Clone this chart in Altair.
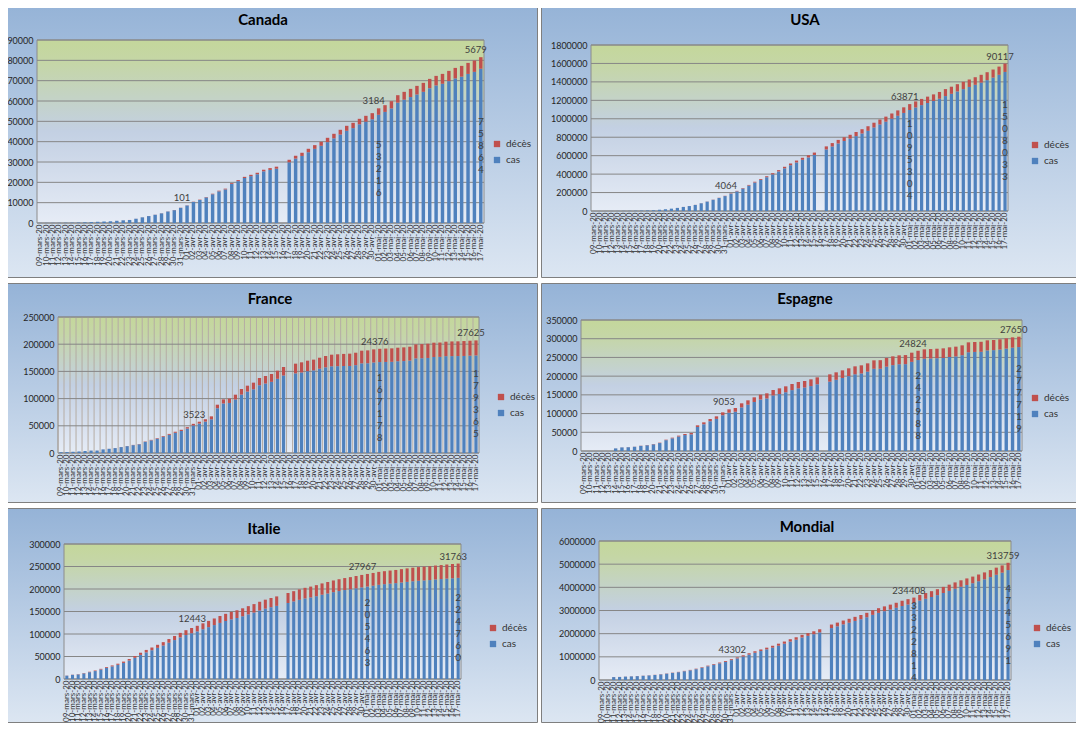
import altair as alt
import pandas as pd

# ---------------- categories ----------------
MONTHS = [("mars", 9, 31), ("avr", 1, 30), ("mai", 1, 17)]
DATES = [f"{d:02d}-{m}-20" for m, first, last in MONTHS for d in range(first, last + 1)]
SERIES = ["décès", "cas"]
SERIES_COLORS = ["#c0504d", "#4f81bd"]
DEATH_LABEL_DATES = ["01-avr-20", "01-mai-20", "17-mai-20"]
CASE_LABEL_DATES = ["01-mai-20", "17-mai-20"]
N = None

# ---------------- data (cumulative) ----------------
CANADA_CAS = [62, 77, 93, 108, 138, 193, 252, 341, 441, 598, 727, 846, 1087, 1328, 1470, 2091, 2792, 3409, 4043, 4757, 5655, 6320, 7448,
              8612,
              10369, 11310, 12592, 14142, 15577, 16519, 19165, 20597, 22143, 23047, 23986, 25420, 26100, 26690,
              N,
              29850, 31671, 32977, 34810, 36466, 37966, 39759, 41630, 43490, 45335, 46653, 48533, 49851, 51024,
              53216, 54640, 56344, 59178, 60646, 61928, 63208, 64514, 66311, 67659, 68469, 69761, 71111, 71966, 73314, 74337, 75864]
CANADA_DECES = [1, 1, 1, 1, 1, 1, 1, 4, 5, 8, 9, 12, 19, 21, 25, 26, 30, 38, 54, 61, 64, 80, 89,
                101,
                131, 190, 208, 258, 323, 381, 435, 503, 557, 653, 714, 780, 900, 1010,
                N,
                1250, 1399, 1563, 1690, 1834, 1974, 2141, 2240, 2350, 2465, 2617, 2707, 2859, 2996,
                3184, 3310, 3566, 3682, 3854, 4042, 4232, 4406, 4569, 4691, 4871, 5049, 5169, 5304, 5426, 5553, 5679]

USA_CAS = [417, 605, 959, 1281, 1663, 2179, 2726, 3499, 4632, 6421, 7786, 13680, 19101, 25493, 33276, 43847, 53740, 65778, 83836, 101657, 121465, 140909, 161831,
           188172,
           213242, 243622, 275367, 308650, 336802, 366317, 397121, 428654, 462780, 496535, 526396, 555313, 580619, 607670,
           N,
           667801, 699706, 732197, 759086, 784326, 811865, 840351, 869170, 905358, 938154, 968517, 1001218, 1032417, 1063194,
           1095304, 1122486, 1147989, 1171185, 1193452, 1217466, 1246124, 1270753, 1296553, 1321452, 1345209, 1368331, 1392560, 1419012, 1446430, 1477117, 1508033]
USA_DECES = [21, 22, 28, 36, 40, 47, 54, 63, 85, 108, 118, 200, 244, 307, 427, 552, 706, 942, 1209, 1581, 2026, 2467, 2978,
             4064,
             5102, 6095, 7403, 8575, 9648, 10871, 12895, 14788, 16691, 18719, 20580, 22074, 23559, 25832,
             N,
             32916, 36773, 38664, 40661, 42094, 44845, 46622, 49954, 51949, 53755, 54881, 56219, 58355, 60967,
             63871, 65753, 67444, 68934, 71078, 73431, 75670, 77180, 78795, 79528, 80682, 82356, 84119, 85898, 87530, 88754, 90117]

FRANCE_CAS = [1412, 1784, 2281, 2876, 3661, 4469, 4499, 6633, 7652, 9043, 10871, 12612, 14459, 16018, 20500, 23300, 26200, 29800, 33400, 37100, 40400, 44900, 50600,
              54000,
              57700, 62000, 82300, 91000, 92000, 98300, 107300, 112900, 117100, 124700, 127700, 130800, 136400, 142400,
              N,
              146300, 148000, 150400, 151900, 154900, 157500, 159400, 159600, 159900, 160000, 161500, 164800, 165000, 166400,
              167178, 167400, 167600, 168700, 169000, 169900, 173900, 174200, 174700, 176500, 176700, 178000, 178100, 178200, 178400, 178900, 179365]
FRANCE_DECES = [19, 25, 33, 48, 48, 79, 91, 91, 148, 148, 148, 243, 450, 562, 674, 860, 1100, 1331, 1696, 1995, 2314, 2606, 3024,
                3523,
                4403, 5387, 6507, 7560, 8078, 8911, 10328, 10869, 12210, 13197, 13832, 14393, 14967, 15729,
                N,
                17920, 18681, 19323, 19718, 20265, 20796, 21340, 21856, 22245, 22614, 22856, 23293, 23660, 24087,
                24376, 24594, 24760, 24895, 25201, 25531, 25809, 25987, 26230, 26310, 26380, 26643, 26991, 27074, 27425, 27529, 27625]

ESPAGNE_CAS = [N, N, N, N, N, 6964, 9605, 10100, 11258, 13667, 15377, 17870, 21257, 28925, 33828, 38689, 42592, 44453, 64235, 71462, 79518, 85797, 95584,
               102247,
               104897, 116465, 123656, 130982, 137445, 140302, 148445, 152162, 156957, 162647, 167428, 169511, 173444, 178221,
               N,
               185322, 190157, 195047, 200048, 204918, 207183, 212043, 219676, 219764, 225310, 229379, 231778, 232037, 238157,
               242988, 246500, 247122, 247858, 248687, 251143, 252730, 256001, 263822, 264663, 265057, 268780, 269520, 271079, 273541, 276137, 277719]
ESPAGNE_DECES = [N, N, N, N, N, 136, 195, 289, 342, 533, 623, 830, 1043, 1375, 1772, 2311, 2808, 3647, 4365, 5138, 5982, 6803, 7716,
                 9053,
                 10003, 10935, 11744, 12418, 13055, 13798, 14555, 15238, 15843, 16353, 16972, 17489, 18056, 18579,
                 N,
                 19478, 20043, 20453, 20852, 21282, 21717, 22157, 22524, 22902, 23190, 23521, 23822, 24275, 24543,
                 24824, 25100, 25264, 25428, 25613, 25857, 26070, 26299, 26478, 26621, 26744, 26920, 27104, 27321, 27459, 27563, 27650]

ITALIE_CAS = [7375, 9172, 10149, 12462, 15113, 17660, 21157, 24747, 27980, 31506, 35713, 41035, 47021, 53578, 59138, 63927, 69176, 74386, 80589, 86498, 92472, 97689, 101739,
              105792,
              110574, 115242, 119827, 124632, 128948, 132547, 135586, 139422, 143626, 147577, 152271, 156363, 159516, 162488,
              N,
              168941, 172434, 175925, 178972, 181228, 183957, 187327, 189973, 192994, 195351, 197675, 199414, 201505, 203591,
              205463, 207428, 209328, 210717, 211938, 213013, 214457, 215858, 217185, 218268, 219070, 219814, 221216, 222104, 223096, 223885, 224760]
ITALIE_DECES = [366, 463, 631, 827, 1016, 1266, 1441, 1809, 2158, 2503, 2978, 3405, 4032, 4825, 5476, 6077, 6820, 7503, 8215, 9134, 10023, 10779, 11591,
                12443,
                13155, 13915, 14681, 15362, 15887, 16523, 17127, 17669, 18279, 18849, 19468, 19899, 20465, 21067,
                N,
                22170, 22745, 23227, 23660, 24114, 24648, 25085, 25549, 25969, 26384, 26644, 26977, 27359, 27682,
                27967, 28236, 28710, 28884, 29079, 29315, 29684, 29958, 30201, 30395, 30560, 30739, 30911, 31106, 31368, 31610, 31763]

MONDIAL_CAS = [N, N, 125875, 128352, 145205, 156101, 167454, 181574, 197102, 214821, 242570, 272208, 304507, 336953, 378235, 418045, 467653, 529591, 593291, 660706, 720117, 782365, 857487,
               932605,
               1013466, 1095917, 1176060, 1249754, 1321481, 1396476, 1480202, 1565278, 1657526, 1735650, 1834721, 1904838, 1976191, 2056054,
               N,
               2240190, 2317758, 2401378, 2472259, 2549294, 2623960, 2708885, 2811193, 2896746, 2971475, 3041764, 3116398, 3193886, 3256846,
               3322814, 3427343, 3506729, 3583055, 3662691, 3755341, 3845718, 3938064, 4024009, 4101699, 4177502, 4261747, 4347018, 4442163, 4542347, 4634068, 4745691]
MONDIAL_DECES = [N, N, 4615, 4720, 5404, 5819, 6440, 7126, 7905, 8733, 9867, 11299, 12973, 14623, 16497, 18615, 21181, 23970, 27198, 30652, 33925, 37582, 42107,
                 43302,
                 52983, 58787, 64606, 69374, 74565, 81865, 88338, 95455, 102525, 108503, 114090, 119481, 126681, 134176,
                 N,
                 153822, 159510, 165044, 169986, 176583, 183027, 190858, 197159, 202846, 206544, 211167, 217153, 227638, 233388,
                 234408, 243401, 247470, 251537, 257239, 263855, 269567, 274898, 279311, 282709, 286330, 291942, 297197, 302418, 307666, 311781, 313759]

# ---------------- panel boxes (each cell = one framed panel) ----------------
# Wb/Hb: panel box; pl/pr/pt/pb: plot rectangle inside the box (pixels)
PANELS = [
    dict(name="Canada", cas=CANADA_CAS, deces=CANADA_DECES, ymax=90000, ystep=10000,
         Wb=535, Hb=275, pl=34, pr=481, pt=37, pb=220, tx=260, ty=17, leg=(489, 136), vgrid=False),
    dict(name="USA", cas=USA_CAS, deces=USA_DECES, ymax=1800000, ystep=200000,
         Wb=538, Hb=275, pl=50, pr=467, pt=42, pb=208, tx=264, ty=17, leg=(489, 137), vgrid=False),
    dict(name="France", cas=FRANCE_CAS, deces=FRANCE_DECES, ymax=250000, ystep=50000,
         Wb=535, Hb=220, pl=55, pr=476, pt=34, pb=170, tx=267, ty=16, leg=(493, 109), vgrid=True),
    dict(name="Espagne", cas=ESPAGNE_CAS, deces=ESPAGNE_DECES, ymax=350000, ystep=50000,
         Wb=538, Hb=220, pl=40, pr=481, pt=37, pb=168, tx=264, ty=16, leg=(489, 110), vgrid=False),
    dict(name="Italie", cas=ITALIE_CAS, deces=ITALIE_DECES, ymax=300000, ystep=50000,
         Wb=535, Hb=215, pl=61, pr=458, pt=36, pb=171, tx=261, ty=21, leg=(485, 115), vgrid=False),
    dict(name="Mondial", cas=MONDIAL_CAS, deces=MONDIAL_DECES, ymax=6000000, ystep=1000000,
         Wb=538, Hb=215, pl=58, pr=470, pt=33, pb=172, tx=266, ty=19, leg=(491, 115), vgrid=False),
]

FONT = "Lato"
LINE_H = 12
OUTER_GRAD = alt.Gradient(
    gradient="linear", x1=0, x2=0, y1=0, y2=1,
    stops=[alt.GradientStop(color="#95b3d7", offset=0),
           alt.GradientStop(color="#dce6f2", offset=1)])
PLOT_GRAD = alt.Gradient(
    gradient="linear", x1=0, x2=0, y1=0, y2=1,
    stops=[alt.GradientStop(color="#c4d79b", offset=0),
           alt.GradientStop(color="#c5d6a6", offset=0.12),
           alt.GradientStop(color="#c3d0e3", offset=0.5),
           alt.GradientStop(color="#e6ecf6", offset=1)])


def panel(p):
    Wb, Hb = p["Wb"], p["Hb"]
    pl, pr, pt, pb = p["pl"], p["pr"], p["pt"], p["pb"]
    ymax = p["ymax"]
    rows = []
    for d, c, m in zip(DATES, p["cas"], p["deces"]):
        if c is None or m is None:
            continue
        rows.append({"date": d, "serie": "cas", "value": c, "ord": 0})
        rows.append({"date": d, "serie": "décès", "value": m, "ord": 1})
    bars_df = pd.DataFrame(rows)

    lookup = {d: (c, m) for d, c, m in zip(DATES, p["cas"], p["deces"])}
    dl_df = pd.DataFrame([{"date": d, "total": lookup[d][0] + lookup[d][1], "t": str(lookup[d][1])}
                          for d in DEATH_LABEL_DATES])
    cl_rows = []
    for d in CASE_LABEL_DATES:
        s = str(lookup[d][0])
        # centre the vertical digit stack on the middle of the blue segment
        shift = (len(s) - 1) * LINE_H / 2 * ymax / (pb - pt)
        cl_rows.append({"date": d, "mid": lookup[d][0] / 2 + shift, "t": "\n".join(s)})
    cl_df = pd.DataFrame(cl_rows)

    xscale = alt.Scale(domain=DATES, range=[pl, pr], paddingInner=0.46, paddingOuter=0.23)
    yscale = alt.Scale(domain=[0, ymax], range=[pb, pt], nice=False, zero=True)
    ticks = list(range(0, ymax + 1, p["ystep"]))
    step = (pr - pl) / len(DATES)

    xaxis = alt.Axis(title=None, labelAngle=270, labelFont=FONT, labelFontSize=8,
                     labelColor="#333333", labelOverlap=False, labelPadding=1, offset=-(Hb - pb),
                     ticks=False, domain=False, grid=False, zindex=1)
    yaxis = alt.Axis(title=None, values=ticks, format="d", labelFont=FONT, labelFontSize=9,
                     labelColor="#262626", labelPadding=4, offset=-pl, ticks=False, domain=False,
                     grid=False, zindex=1)

    def X():
        return alt.X("date:N", scale=xscale, axis=xaxis)

    def Y(field, **kw):
        return alt.Y(field, scale=yscale, axis=yaxis, **kw)

    one = pd.DataFrame({"k": [0]})
    outer = alt.Chart(one).mark_rect(fill=OUTER_GRAD, stroke="#7f7f7f", strokeWidth=1).encode(
        x=alt.value(0.5), x2=alt.value(Wb - 0.5), y=alt.value(0.5), y2=alt.value(Hb - 0.5))
    plotbg = alt.Chart(one).mark_rect(fill=PLOT_GRAD, stroke="#8c8c8c", strokeWidth=1).encode(
        x=alt.value(pl), x2=alt.value(pr), y=alt.value(pt), y2=alt.value(pb))
    title = alt.Chart(pd.DataFrame({"t": [p["name"]]})).mark_text(
        font=FONT, fontSize=15, fontWeight="bold", color="#000000", align="center", baseline="middle"
    ).encode(x=alt.value(p["tx"]), y=alt.value(p["ty"]), text="t:N")

    layers = [outer, plotbg, title]
    if p["vgrid"]:
        layers.append(alt.Chart(pd.DataFrame({"date": DATES})).mark_rule(
            color="#b5aca4", strokeWidth=1, xOffset=-step / 2).encode(
            x=X(), y=alt.value(pt), y2=alt.value(pb)))
    grid = alt.Chart(pd.DataFrame({"v": ticks})).mark_rule(color="#868686", strokeWidth=1).encode(
        y=Y("v:Q"), x=alt.value(pl), x2=alt.value(pr))
    layers.append(grid)

    bars = alt.Chart(bars_df).mark_bar().encode(
        x=X(),
        y=Y("value:Q", stack="zero"),
        color=alt.Color("serie:N", scale=alt.Scale(domain=SERIES, range=SERIES_COLORS),
                        legend=alt.Legend(title=None, orient="none", legendX=p["leg"][0], legendY=p["leg"][1],
                                          symbolType="square", symbolSize=40, symbolStrokeWidth=0,
                                          labelFont=FONT, labelFontSize=10, labelColor="#333333",
                                          rowPadding=6, padding=0)),
        order=alt.Order("ord:Q"),
    )
    layers.append(bars)

    dl = alt.Chart(dl_df).mark_text(font=FONT, fontSize=9.5, color="#404040", baseline="bottom",
                                    align="center", dx=-5, dy=-2).encode(
        x=X(), y=Y("total:Q"), text="t:N")
    cl = alt.Chart(cl_df).mark_text(font=FONT, fontSize=10, color="#404040", baseline="middle",
                                    align="center", lineBreak="\n", lineHeight=LINE_H).encode(
        x=X(), y=Y("mid:Q"), text="t:N")
    layers += [dl, cl]
    return alt.layer(*layers).properties(width=Wb, height=Hb)


charts = [panel(p) for p in PANELS]


def row(a, b):
    return (alt.hconcat(a, b, spacing=3, bounds="flush")
            .resolve_scale(color="independent")
            .resolve_legend(color="independent"))


chart = (alt.vconcat(row(charts[0], charts[1]),
                     row(charts[2], charts[3]),
                     row(charts[4], charts[5]), spacing=5)
         .resolve_scale(color="independent")
         .resolve_legend(color="independent")
         .properties(padding={"left": -5, "top": -5, "right": -3, "bottom": 0}, background="white")
         .configure_view(strokeWidth=0))

chart.save("out.html", embed_options={"renderer": "svg", "actions": False})
